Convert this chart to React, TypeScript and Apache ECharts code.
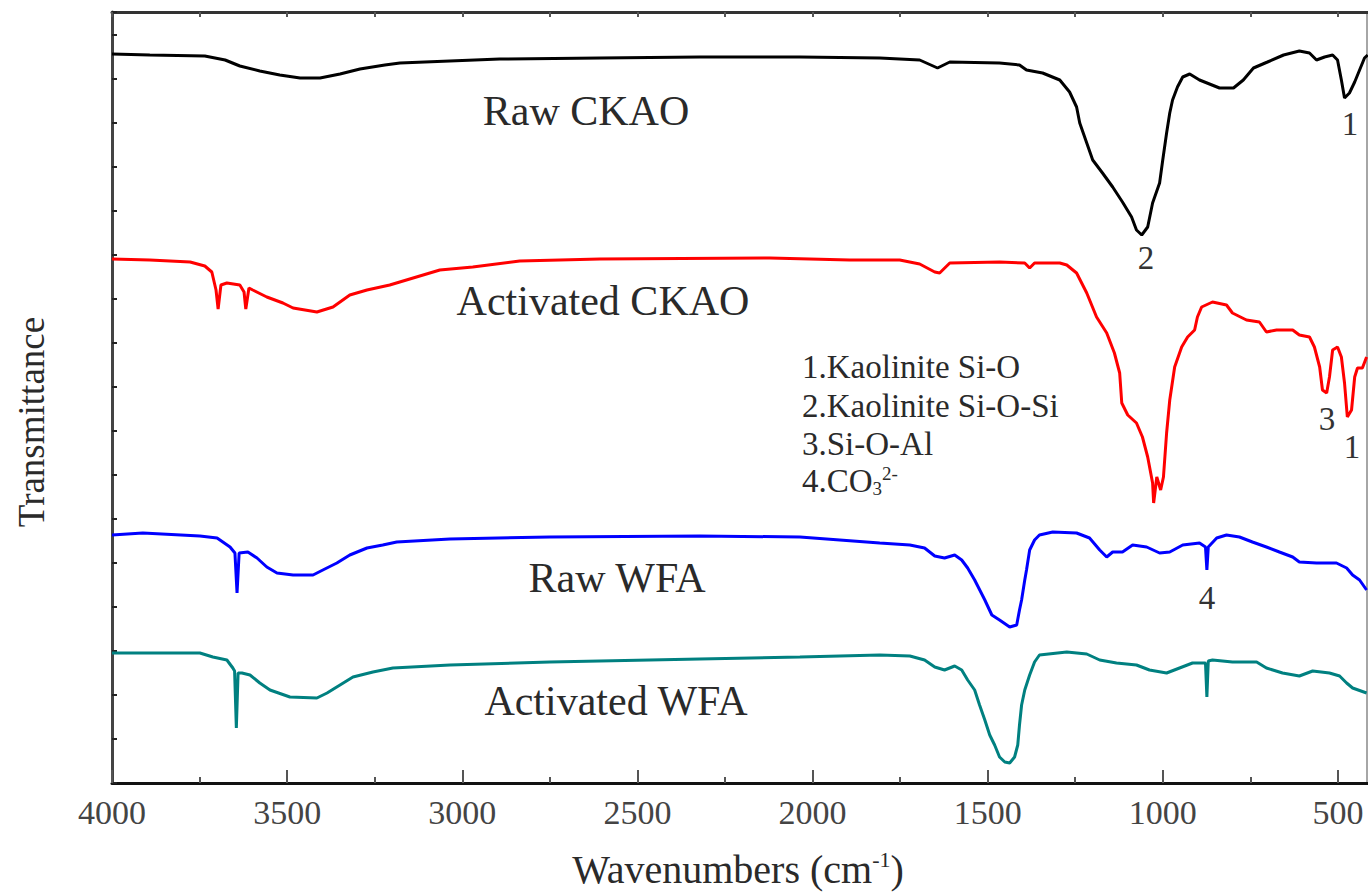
import React, { useEffect, useRef } from "react";
import * as echarts from "echarts";

// ---- Data (wavenumber cm^-1, transmittance in arbitrary offset units) ----
const seriesNames = ["Raw CKAO", "Activated CKAO", "Raw WFA", "Activated WFA"];
const seriesColors = ["#000000", "#ff0000", "#0000ff", "#008080"];

const rawCKAO: number[][] = [
  [4000, 729], [3892, 728], [3735, 727], [3677, 723], [3635, 717], [3578, 712], [3521, 708], [3463, 705],
  [3406, 705], [3349, 709], [3292, 714], [3221, 718], [3178, 720], [2893, 724], [2607, 725], [2322, 726],
  [2036, 726], [1808, 725], [1694, 723], [1643, 715], [1608, 721], [1466, 720], [1409, 718], [1389, 713],
  [1343, 710], [1294, 703], [1266, 691], [1246, 676], [1237, 660], [1217, 640], [1200, 623], [1172, 610],
  [1143, 596], [1115, 581], [1089, 566], [1075, 553], [1060, 548], [1043, 556], [1029, 580], [1009, 600],
  [1000, 623], [989, 650], [980, 670], [972, 683], [958, 696], [943, 706], [923, 709], [895, 703],
  [838, 695], [798, 695], [770, 703], [741, 715], [701, 721], [655, 728], [610, 732], [581, 730],
  [561, 723], [538, 726], [515, 728], [501, 723], [490, 703], [481, 685], [467, 690], [452, 701],
  [438, 713], [424, 725], [415, 728],
];

const activatedCKAO: number[][] = [
  [4000, 524], [3892, 523], [3777, 521], [3735, 517], [3715, 511], [3703, 493], [3697, 474], [3689, 498],
  [3672, 500], [3635, 498], [3623, 491], [3618, 474], [3609, 495], [3598, 493], [3558, 486], [3512, 480],
  [3483, 475], [3415, 471], [3369, 476], [3321, 488], [3272, 493], [3207, 498], [3064, 513], [2970, 516],
  [2836, 522], [2607, 524], [2122, 525], [1894, 523], [1751, 523], [1694, 519], [1651, 511], [1637, 510],
  [1608, 520], [1466, 521], [1394, 520], [1380, 515], [1366, 520], [1294, 520], [1274, 518], [1246, 510],
  [1217, 490], [1189, 466], [1160, 450], [1138, 430], [1123, 410], [1117, 380], [1100, 368], [1075, 360],
  [1058, 346], [1043, 326], [1029, 300], [1026, 280], [1017, 306], [1006, 293], [998, 306], [989, 350],
  [980, 383], [966, 416], [946, 436], [929, 446], [909, 453], [901, 466], [889, 476], [858, 481],
  [818, 478], [801, 470], [761, 463], [724, 461], [704, 451], [675, 453], [629, 453], [610, 448],
  [581, 446], [567, 436], [552, 416], [544, 393], [532, 390], [524, 406], [515, 433], [501, 436],
  [490, 426], [481, 400], [473, 366], [461, 373], [452, 406], [444, 415], [430, 415], [418, 426],
];

const rawWFA: number[][] = [
  [4000, 248], [3912, 250], [3749, 247], [3700, 245], [3663, 236], [3649, 230], [3643, 190], [3637, 230],
  [3612, 231], [3586, 225], [3558, 216], [3529, 210], [3483, 208], [3426, 208], [3398, 213], [3358, 220],
  [3321, 228], [3272, 235], [3227, 238], [3187, 241], [3035, 244], [2750, 246], [2322, 247], [2036, 246],
  [1808, 240], [1722, 238], [1680, 235], [1651, 227], [1623, 225], [1594, 228], [1574, 223], [1557, 215],
  [1537, 203], [1508, 183], [1488, 168], [1466, 163], [1437, 156], [1417, 158], [1409, 173], [1403, 183],
  [1394, 203], [1389, 213], [1380, 233], [1366, 243], [1352, 248], [1314, 251], [1246, 250], [1209, 245],
  [1180, 233], [1160, 226], [1143, 231], [1115, 231], [1086, 238], [1046, 236], [1009, 230], [980, 231],
  [943, 238], [895, 240], [878, 236], [874, 213], [870, 236], [846, 245], [818, 248], [781, 246],
  [744, 241], [704, 236], [667, 231], [629, 226], [610, 221], [561, 220], [504, 220], [475, 215],
  [458, 208], [438, 203], [418, 193],
];

const activatedWFA: number[][] = [
  [4000, 130], [3749, 130], [3712, 126], [3672, 123], [3655, 115], [3650, 112], [3645, 55], [3640, 110],
  [3629, 110], [3606, 108], [3578, 100], [3549, 93], [3492, 86], [3415, 85], [3386, 90], [3349, 98],
  [3312, 106], [3255, 111], [3198, 115], [3035, 118], [2750, 121], [2322, 124], [2036, 126], [1808, 128],
  [1722, 127], [1680, 123], [1651, 116], [1623, 113], [1594, 117], [1574, 113], [1557, 103], [1537, 93],
  [1523, 78], [1508, 63], [1494, 48], [1480, 38], [1466, 26], [1451, 21], [1437, 20], [1423, 26],
  [1414, 38], [1409, 58], [1403, 78], [1394, 93], [1380, 108], [1366, 121], [1352, 128], [1274, 131],
  [1217, 129], [1180, 123], [1132, 120], [1075, 118], [1038, 113], [989, 110], [952, 115], [915, 120],
  [886, 120], [878, 120], [874, 86], [870, 122], [858, 123], [801, 121], [732, 121], [704, 115],
  [658, 110], [610, 107], [572, 112], [524, 110], [495, 107], [475, 100], [458, 95], [418, 90],
];

const allSeries = [rawCKAO, activatedCKAO, rawWFA, activatedWFA];

const xAxisTitle = "Wavenumbers (cm{sup|-1})";
const yAxisTitle = "Transmittance";
const assignmentNotes = ["1.Kaolinite Si-O", "2.Kaolinite Si-O-Si", "3.Si-O-Al", "{n|4.CO}{sub|3}{sup|2-}"];
const peakMarks = ["2", "1", "3", "1", "4"];

const FONT = '"Liberation Serif", "Times New Roman", Times, serif';
const TXT = "#2a2a2a";

function textEl(text: string, x: number, y: number, size: number, align = "center", extra: any = {}) {
  const { styleExtra, ...rest } = extra;
  return {
    type: "text",
    x,
    y,
    silent: true,
    ...rest,
    style: {
      text,
      fontSize: size,
      fontFamily: FONT,
      fill: TXT,
      align,
      textAlign: align,
      verticalAlign: "middle",
      textVerticalAlign: "middle",
      ...(styleExtra || {}),
    },
  };
}

export default function App() {
  const ref = useRef<HTMLDivElement>(null);

  useEffect(() => {
    document.body.style.margin = "0";
    if (!ref.current) return;
    const chart = echarts.init(ref.current, null, { renderer: "svg" });

    const labelPos = [
      [586, 111],
      [603, 301],
      [617, 578],
      [616, 701],
    ];
    const peakPos = [
      [1146, 258],
      [1350, 124],
      [1327, 419],
      [1352, 447],
      [1207, 598],
    ];
    const noteY = [367, 406, 444, 481];

    const graphic: any[] = [];
    seriesNames.forEach((n, i) => graphic.push(textEl(n, labelPos[i][0], labelPos[i][1], 42)));
    peakMarks.forEach((m, i) =>
      graphic.push(textEl(m, peakPos[i][0], peakPos[i][1], 33, "center", { styleExtra: { fill: "#333" } }))
    );
    assignmentNotes.forEach((t, i) =>
      graphic.push(
        textEl(t, 802, noteY[i], 33, "left", {
          styleExtra: {
            rich: {
              n: { fontSize: 33, fontFamily: FONT, fill: TXT },
              sub: { fontSize: 19, fontFamily: FONT, fill: TXT, verticalAlign: "bottom", lineHeight: 34 },
              sup: { fontSize: 19, fontFamily: FONT, fill: TXT, verticalAlign: "top", lineHeight: 34 },
            },
          },
        })
      )
    );
    graphic.push(
      textEl(xAxisTitle, 738, 869, 40, "center", {
        styleExtra: {
          rich: {
            sup: { fontSize: 22, fontFamily: FONT, fill: TXT, verticalAlign: "top", lineHeight: 42 },
          },
        },
      })
    );
    graphic.push(textEl(yAxisTitle, 31, 422, 37, "center", { rotation: Math.PI / 2 }));
    graphic.push({
      type: "line",
      silent: true,
      shape: { x1: 1367, y1: 12, x2: 1367, y2: 783 },
      style: { stroke: "#888", lineWidth: 1.5 },
    });

    const option: any = {
      animation: false,
      backgroundColor: "#ffffff",
      grid: {
        left: 112,
        right: -145,
        top: 12,
        bottom: 111,
        containLabel: false,
        outerBoundsMode: "none",
      },
      xAxis: [
        {
          type: "value",
          inverse: true,
          min: 0,
          max: 4000,
          interval: 500,
          position: "bottom",
          axisLine: { show: true, onZero: false, lineStyle: { color: "#111", width: 3 } },
          axisTick: { show: true, inside: true, length: 13, lineStyle: { color: "#555", width: 2 } },
          minorTick: { show: true, splitNumber: 2, length: 6, lineStyle: { color: "#555", width: 2 } },
          axisLabel: {
            show: true,
            margin: 12,
            fontSize: 34,
            fontFamily: FONT,
            color: "#444",
            hideOverlap: false,
            formatter: (v: number) => (v === 0 ? "" : String(v)),
          },
          splitLine: { show: false },
          minorSplitLine: { show: false },
        },
        {
          type: "value",
          inverse: true,
          min: 0,
          max: 4000,
          interval: 500,
          position: "top",
          axisLine: { show: true, onZero: false, lineStyle: { color: "#333", width: 3 } },
          axisTick: { show: true, inside: true, length: 5, lineStyle: { color: "#555", width: 2 } },
          minorTick: { show: true, splitNumber: 2, length: 5, lineStyle: { color: "#555", width: 2 } },
          axisLabel: { show: false },
          splitLine: { show: false },
        },
      ],
      yAxis: {
        type: "value",
        min: 0,
        max: 771,
        interval: 44,
        axisLine: { show: true, onZero: false, lineStyle: { color: "#444", width: 3 } },
        axisTick: { show: true, inside: true, length: 5, lineStyle: { color: "#222", width: 2 } },
        axisLabel: { show: false },
        splitLine: { show: false },
      },
      series: allSeries.map((d, i) => ({
        name: seriesNames[i],
        type: "line",
        xAxisIndex: 0,
        data: d,
        showSymbol: false,
        symbol: "none",
        smooth: false,
        lineStyle: { color: seriesColors[i], width: 3 },
        itemStyle: { color: seriesColors[i] },
      })),
      graphic,
    };

    chart.setOption(option);
    return () => chart.dispose();
  }, []);

  return <div ref={ref} style={{ width: 1368, height: 894, background: "#fff" }} />;
}
